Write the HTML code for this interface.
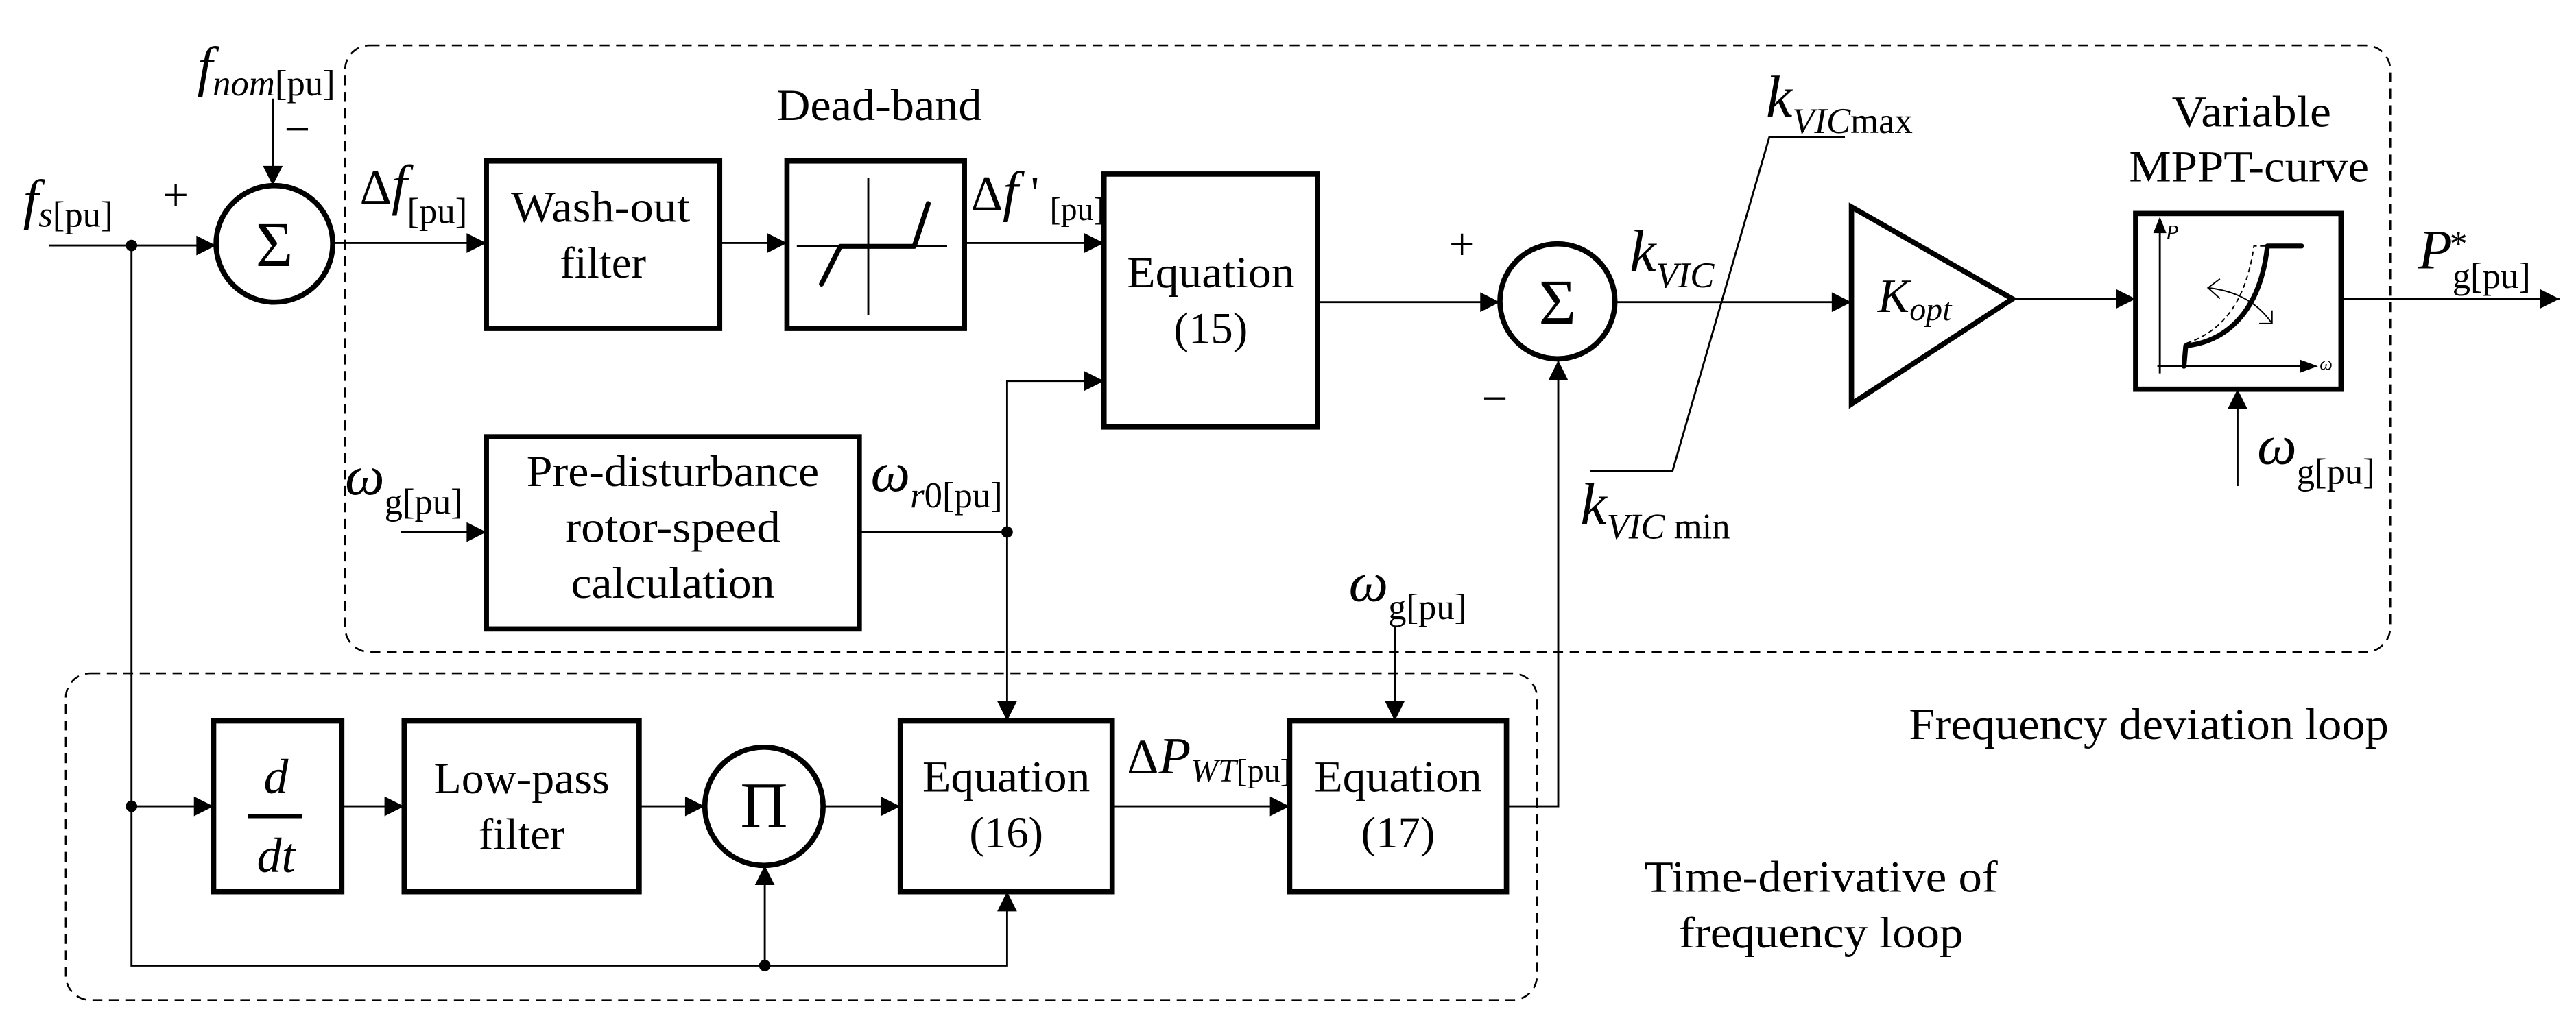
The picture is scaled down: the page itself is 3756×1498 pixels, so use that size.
<!DOCTYPE html>
<html><head><meta charset="utf-8"><style>
html,body{margin:0;padding:0;background:#fff}
svg{display:block}
text{font-family:"Liberation Serif",serif;fill:#000}
.i{font-style:italic}
</style></head><body>
<svg width="3756" height="1498" viewBox="0 0 1568 625.4" xmlns="http://www.w3.org/2000/svg">
<defs>
<marker id="a" viewBox="0 0 10 10" refX="10" refY="5" markerWidth="17" markerHeight="12" markerUnits="userSpaceOnUse" orient="auto"><path d="M0,0L10,5L0,10z"/></marker>
</defs>
<g fill="none" stroke="#000" stroke-width="1.1">
<rect x="210" y="27.6" width="1245" height="369.4" rx="15" stroke-dasharray="6,4"/>
<rect x="40" y="410" width="895.6" height="199" rx="15" stroke-dasharray="6,4"/>
</g>
<g fill="none" stroke="#000" stroke-width="3.2">
<circle cx="167" cy="148.5" r="35.5"/>
<rect x="296" y="98" width="142" height="102"/>
<rect x="479" y="98" width="108" height="102"/>
<rect x="672" y="106" width="130" height="154"/>
<circle cx="948" cy="183.5" r="35"/>
<path d="M1127,126L1225,182L1127,246Z"/>
<rect x="1300" y="130" width="125" height="107"/>
<rect x="296" y="266" width="227" height="117"/>
<rect x="130" y="439" width="78" height="104"/>
<rect x="246" y="439" width="143" height="104"/>
<circle cx="465" cy="491" r="36"/>
<rect x="548" y="439" width="129" height="104"/>
<rect x="785" y="439" width="132" height="104"/>
</g>
<g fill="none" stroke="#000" stroke-width="1.2">
<path d="M30,149.5H131.5" marker-end="url(#a)"/>
<path d="M166,60V113" marker-end="url(#a)"/>
<path d="M202.5,148H296" marker-end="url(#a)"/>
<path d="M438,148H479" marker-end="url(#a)"/>
<path d="M587,148H672" marker-end="url(#a)"/>
<path d="M802,184H913" marker-end="url(#a)"/>
<path d="M983,184H1127" marker-end="url(#a)"/>
<path d="M1225,182H1300" marker-end="url(#a)"/>
<path d="M1425,182H1558" marker-end="url(#a)"/>
<path d="M1362,296V237" marker-end="url(#a)"/>
<path d="M968,287H1018L1077,83.5H1123"/>
<path d="M244,324H296" marker-end="url(#a)"/>
<path d="M523,324H613"/>
<path d="M613,324V232H672" marker-end="url(#a)"/>
<path d="M613,324V439" marker-end="url(#a)"/>
<path d="M80,149.5V588H613V543" marker-end="url(#a)"/>
<path d="M80,491H130" marker-end="url(#a)"/>
<path d="M208,491H246" marker-end="url(#a)"/>
<path d="M389,491H429" marker-end="url(#a)"/>
<path d="M501,491H548" marker-end="url(#a)"/>
<path d="M465.5,588V527" marker-end="url(#a)"/>
<path d="M677,491H785" marker-end="url(#a)"/>
<path d="M849,382V439" marker-end="url(#a)"/>
<path d="M917,491H948.5V219.5" marker-end="url(#a)"/>
<path d="M485,150H576.5M528.5,108.5V192"/>
<path d="M1314.7,227.4V136M1313.2,223H1402"/>
</g>
<path d="M1310.7,142L1314.7,132L1318.7,142Z"/>
<path d="M1400,219L1411,223L1400,227Z"/>
<g fill="none" stroke="#000" stroke-width="3" stroke-linecap="round" stroke-linejoin="round">
<path d="M500,173L511.5,150H556.5L565,124"/>
<path d="M1329.4,223L1330.5,210.6C1355,208 1376,190 1380.2,149.8H1401"/>
</g>
<path d="M1331,209C1352,202 1367,185 1372,149.8H1380" fill="none" stroke="#000" stroke-width="0.8" stroke-dasharray="3,2"/>
<path d="M1344,175.3Q1370,178 1383,197M1351.3,169.8L1344,175.3L1351.3,181.8M1375.2,197H1383V189" fill="none" stroke="#000" stroke-width="0.8"/>
<text x="1318.3" y="145.8" font-size="13" class="i">P</text>
<text x="1412" y="225" font-size="11" class="i">ω</text>
<g>
<text x="167" y="162" text-anchor="middle" font-size="39">Σ</text>
<text x="948" y="197" text-anchor="middle" font-size="39">Σ</text>
<text x="465" y="504" text-anchor="middle" font-size="40">Π</text>
<text x="311" y="135" font-size="27" textLength="109" lengthAdjust="spacingAndGlyphs">Wash-out</text>
<text x="367" y="169" text-anchor="middle" font-size="27">filter</text>
<text x="737" y="175" text-anchor="middle" font-size="27" textLength="102" lengthAdjust="spacingAndGlyphs">Equation</text>
<text x="737" y="209" text-anchor="middle" font-size="27">(15)</text>
<text x="409.5" y="296" text-anchor="middle" font-size="27" textLength="178" lengthAdjust="spacingAndGlyphs">Pre-disturbance</text>
<text x="409.5" y="330" text-anchor="middle" font-size="27" textLength="131" lengthAdjust="spacingAndGlyphs">rotor-speed</text>
<text x="409.5" y="364" text-anchor="middle" font-size="27" textLength="124" lengthAdjust="spacingAndGlyphs">calculation</text>
<text x="168" y="483" text-anchor="middle" class="i" font-size="30">d</text>
<path d="M151,497H184" stroke="#000" stroke-width="2.5"/>
<text x="168" y="531" text-anchor="middle" class="i" font-size="30">dt</text>
<text x="317.5" y="483" text-anchor="middle" font-size="27" textLength="107" lengthAdjust="spacingAndGlyphs">Low-pass</text>
<text x="317.5" y="517" text-anchor="middle" font-size="27">filter</text>
<text x="612.5" y="482" text-anchor="middle" font-size="27" textLength="102" lengthAdjust="spacingAndGlyphs">Equation</text>
<text x="612.5" y="516" text-anchor="middle" font-size="27">(16)</text>
<text x="851" y="482" text-anchor="middle" font-size="27" textLength="102" lengthAdjust="spacingAndGlyphs">Equation</text>
<text x="851" y="516" text-anchor="middle" font-size="27">(17)</text>
<text x="1143" y="190" class="i" font-size="29">K<tspan font-size="20" dy="5">opt</tspan></text>
<text x="472.6" y="73" font-size="27" textLength="125" lengthAdjust="spacingAndGlyphs">Dead-band</text>
<text x="1322" y="77" font-size="27" textLength="97" lengthAdjust="spacingAndGlyphs">Variable</text>
<text x="1296" y="110.5" font-size="27" textLength="146" lengthAdjust="spacingAndGlyphs">MPPT-curve</text>
<text x="1162" y="450" font-size="27" textLength="292" lengthAdjust="spacingAndGlyphs">Frequency deviation loop</text>
<text x="1001" y="543" font-size="27" textLength="215" lengthAdjust="spacingAndGlyphs">Time-derivative of</text>
<text x="1022" y="577" font-size="27" textLength="173" lengthAdjust="spacingAndGlyphs">frequency loop</text>
<text x="14" y="133" class="i" font-size="34">f<tspan font-size="22" dy="5">s</tspan><tspan font-size="22" font-style="normal">[pu]</tspan></text>
<text x="99" y="128" font-size="28">+</text>
<text x="173" y="88" font-size="28">−</text>
<text x="120" y="52" class="i" font-size="34">f<tspan font-size="22" dy="6">nom</tspan><tspan font-size="22" font-style="normal">[pu]</tspan></text>
<text x="219" y="124" font-size="30">Δ<tspan class="i" font-size="34">f</tspan><tspan font-size="22" dy="12">[pu]</tspan></text>
<text x="591" y="128" font-size="30">Δ<tspan class="i" font-size="34">f</tspan> '<tspan font-size="20" dy="6" x="639">[pu]</tspan></text>
<text x="882" y="158" font-size="28">+</text>
<text x="902" y="252" font-size="28">−</text>
<text x="992" y="165" class="i" font-size="36">k<tspan font-size="22" dy="10">VIC</tspan></text>
<text x="1075" y="71" class="i" font-size="36">k<tspan font-size="22" dy="10">VIC</tspan><tspan font-size="22" font-style="normal">max</tspan></text>
<text x="962" y="319" class="i" font-size="36">k<tspan font-size="22" dy="9">VIC</tspan><tspan font-size="22" font-style="normal"> min</tspan></text>
<text x="1472" y="163.4" class="i" font-size="34">P<tspan font-size="22" dy="12" font-style="normal">g[pu]</tspan></text>
<text x="1491" y="156" font-size="22">*</text>
<text x="1374" y="282.5" class="i" font-size="34">ω<tspan font-size="22" dy="12" font-style="normal">g[pu]</tspan></text>
<text x="210" y="301" class="i" font-size="34">ω<tspan font-size="22" dy="12" font-style="normal">g[pu]</tspan></text>
<text x="530" y="299" class="i" font-size="34">ω<tspan font-size="22" dy="10">r</tspan><tspan font-size="22" font-style="normal">0[pu]</tspan></text>
<text x="821" y="366" class="i" font-size="34">ω<tspan font-size="22" dy="11" font-style="normal">g[pu]</tspan></text>
<text x="686" y="471" font-size="30">Δ<tspan class="i" font-size="32">P</tspan><tspan font-size="20" dy="5" class="i">WT</tspan><tspan font-size="20">[pu]</tspan></text>
</g>
<g fill="#000">
<circle cx="80" cy="149.5" r="3.5"/>
<circle cx="80" cy="491" r="3.5"/>
<circle cx="613" cy="324" r="3.5"/>
<circle cx="465.5" cy="588" r="3.5"/>
</g>
</svg>
</body></html>
